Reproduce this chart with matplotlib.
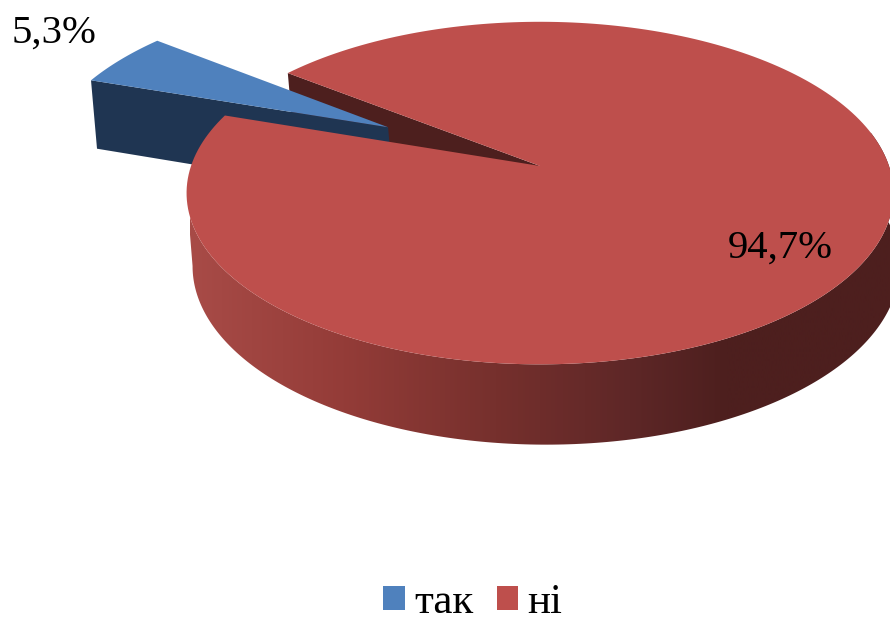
import numpy as np
import matplotlib
matplotlib.use("Agg")
import matplotlib.pyplot as plt
from matplotlib.colors import LinearSegmentedColormap
from matplotlib.patches import Patch, Polygon

categories = ["так", "ні"]
values = [5.3, 94.7]
explode = [0.512, 0.0]
top_colors = ["#4F81BD", "#BE4F4C"]
cut_colors = ["#1F3552", "#4D1F1E"]

# projection of the pie disc to the picture, in pixels
CX, CY = 540.0, 166.0
RX, RY = 349.0, 167.0
PERSP = 0.158
BOTTOM_CX, BOTTOM_CY, BOTTOM_RY = 546.0, 238.0, 174.0
START = 142.4


def project(u, v, bottom=False):
  w = 1 + PERSP * v
  if bottom:
    return BOTTOM_CX + RX * u / w, BOTTOM_CY - BOTTOM_RY * v / w
  return CX + RX * u / w, CY - RY * v / w


def rim(a0, a1, off=(0, 0), bottom=False):
  t = np.radians(np.linspace(a0, a1, 240))
  x, y = project(off[0] + np.cos(t), off[1] + np.sin(t), bottom)
  return np.column_stack([x, y])


def cut_face(angle, off=(0, 0)):
  t = np.radians(angle)
  u, v = off[0] + np.cos(t), off[1] + np.sin(t)
  return [project(off[0], off[1]), project(u, v),
          project(u, v, True), project(off[0], off[1], True)]


plt.rcParams["font.family"] = ["Liberation Serif", "DejaVu Serif"]
fig = plt.figure(figsize=(8.9, 6.19), dpi=100)
ax = fig.add_axes([0, 0, 1, 1])
ax.set_xlim(0, 890)
ax.set_ylim(619, 0)
ax.axis("off")

sweep = 360.0 * values[0] / sum(values)
a0, a1 = START, START + sweep
mid = np.radians((a0 + a1) / 2)
off = (explode[0] * np.cos(mid), explode[0] * np.sin(mid))

# red notch face, then the pulled out blue slice, then red body on top
ax.add_patch(Polygon(cut_face(a0), fc=cut_colors[1], ec="none", zorder=1))
ax.add_patch(Polygon(cut_face(a1, off), fc=cut_colors[0], ec="none", zorder=2))
blue_top = np.vstack([[project(*off)], rim(a0, a1, off)])
ax.add_patch(Polygon(blue_top, fc=top_colors[0], ec="none", zorder=3))

side = np.vstack([rim(189, 372), rim(189, 372, bottom=True)[::-1]])
side_clip = Polygon(side, fc="none", ec="none", transform=ax.transData)
ax.add_patch(side_clip)
shade = LinearSegmentedColormap.from_list(
  "side", [(0, "#A84B47"), (0.215, "#943C38"), (0.43, "#76302D"),
           (0.62, "#5E2727"), (0.756, "#4D1F1E"), (1, "#4D1F1E")])
img = ax.imshow(np.linspace(0, 1, 256)[None, :], cmap=shade, aspect="auto",
                extent=(190, 900, 619, 0), zorder=4, interpolation="bilinear")
img.set_clip_path(side_clip)
ax.set_xlim(0, 890)
ax.set_ylim(619, 0)

red_top = np.vstack([[project(0, 0)], rim(a1, a0 + 360)])
ax.add_patch(Polygon(red_top, fc=top_colors[1], ec="none", zorder=5))

for val, xy in zip(values, [(12, 43), (728, 258)]):
  ax.text(xy[0], xy[1], f"{val:.1f}%".replace(".", ","), fontsize=29.3,
          color="black", ha="left", va="baseline", zorder=6)

handles = [Patch(fc=c, ec="none", label=n) for c, n in zip(top_colors, categories)]
ax.legend(handles=handles, ncol=2, frameon=False, fontsize=31, loc="center",
          bbox_to_anchor=(473, 603), bbox_transform=ax.transData,
          handlelength=0.51, handleheight=0.51, handletextpad=0.21,
          columnspacing=0.53, borderpad=0, borderaxespad=0)

fig.savefig("out.png", dpi=100)
plt.close("all")
